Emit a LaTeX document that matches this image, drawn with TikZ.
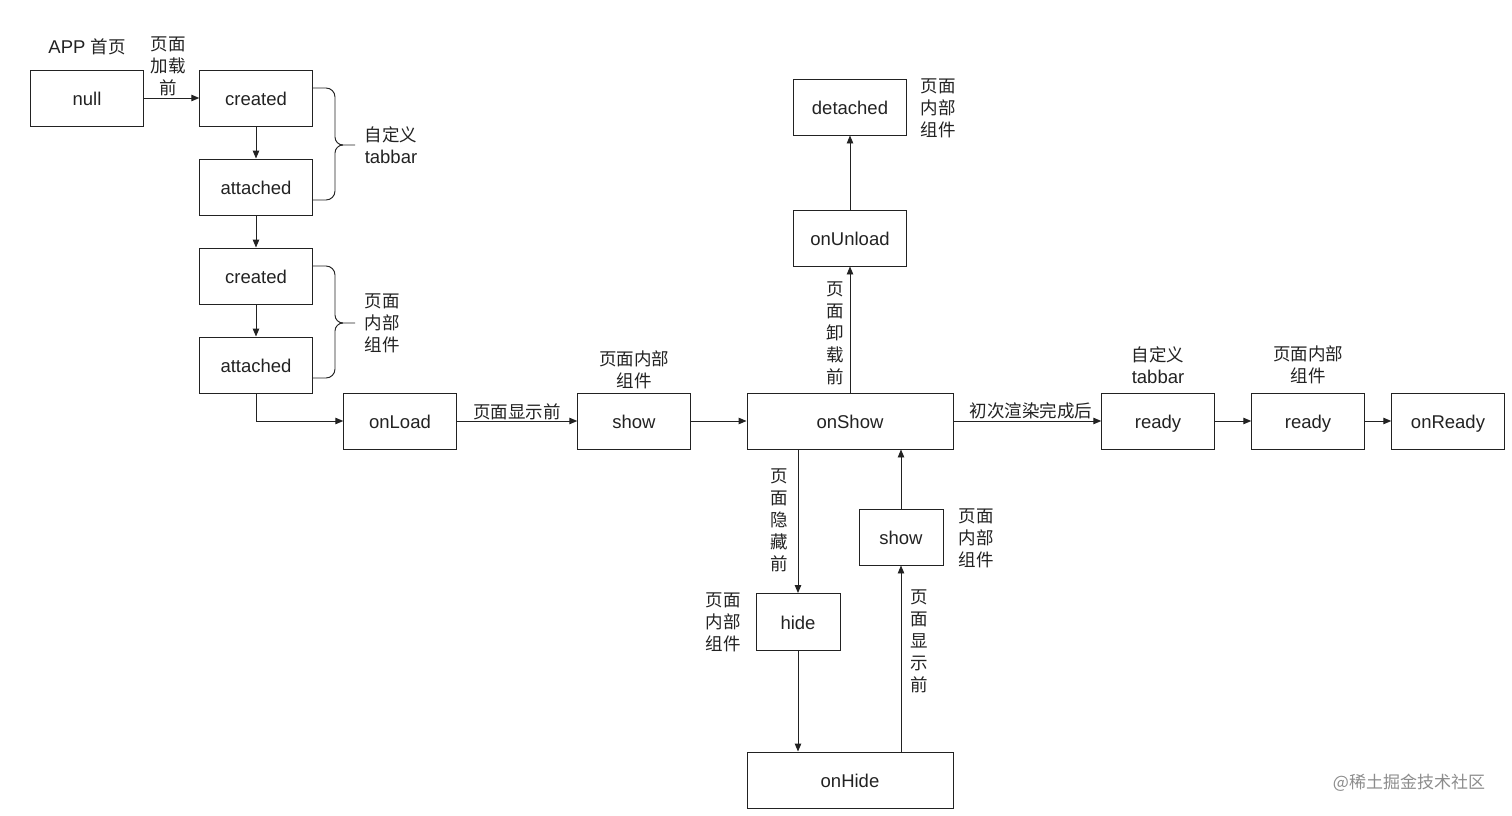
\documentclass[tikz,border=0pt]{standalone}
\usepackage{fontspec}
\setmainfont{Liberation Sans}
\newfontfamily\cjk{Noto Sans CJK SC}
\usetikzlibrary{arrows.meta}
\definecolor{ink}{HTML}{222222}
\begin{document}
\begin{tikzpicture}[x=1pt,y=-1pt,
  box/.style={draw=ink, line width=0.95pt, minimum width=112.5pt, minimum height=56pt, inner sep=0pt, text=ink, text height=15pt, text depth=0pt, font=\fontsize{18.5}{20}\selectfont},
  lbl/.style={align=center, inner sep=0pt, text=ink, font=\fontsize{17.5}{22}\selectfont\cjk},
  arr/.style={draw=ink, -{Triangle[length=8pt,width=6.5pt]}, line width=0.95pt},
  brace/.style={draw=ink, line width=0.95pt},
  wm/.style={inner sep=0pt, text=black!45, font=\fontsize{17}{20}\selectfont\cjk}]
\useasboundingbox (0,0) rectangle (1512,816);

% boxes
\node[box] (null) at (87,98) {null};
\node[box] (c1) at (256,98) {created};
\node[box] (a1) at (256,187) {attached};
\node[box] (c2) at (256,276) {created};
\node[box] (a2) at (256,365) {attached};
\node[box] (onLoad) at (400,421) {onLoad};
\node[box] (show) at (634,421) {show};
\node[box, minimum width=206pt] (onShow) at (850,421) {onShow};
\node[box] (r1) at (1158,421) {ready};
\node[box] (r2) at (1308,421) {ready};
\node[box] (onReady) at (1448,421) {onReady};
\node[box] (onUnload) at (850,238) {onUnload};
\node[box] (det) at (850,107) {detached};
\node[box, minimum width=84pt, minimum height=57pt] (hide) at (798,622) {hide};
\node[box, minimum width=84pt] (show2) at (901,537) {show};
\node[box, minimum width=206pt] (onHide) at (850,780) {onHide};

% labels
\node[lbl, font=\fontsize{18.5}{22}\selectfont] (app) at (87,47) {APP {\cjk\fontsize{17.5}{22}\selectfont 首页}};
\node[lbl] (l1) at (168,66) {页面\\加载\\前};
\node[lbl] (l2) at (391,145) {自定义\\{\rmfamily\fontsize{18.5}{22}\selectfont tabbar}};
\node[lbl] (l3) at (382,323) {页面\\内部\\组件};
\node[lbl] (l4) at (517,412) {页面显示前};
\node[lbl] (l5) at (634,370) {页面内部\\组件};
\node[lbl] (l6) at (1031,411) {初次渲染完成后};
\node[lbl] (l7) at (1158,365) {自定义\\{\rmfamily\fontsize{18.5}{22}\selectfont tabbar}};
\node[lbl] (l8) at (1308,365) {页面内部\\组件};
\node[lbl] (l9) at (938,108) {页面\\内部\\组件};
\node[lbl] (l10) at (835,333) {页\\面\\卸\\载\\前};
\node[lbl] (l11) at (779,520) {页\\面\\隐\\藏\\前};
\node[lbl] (l12) at (919,641) {页\\面\\显\\示\\前};
\node[lbl] (l13) at (976,538) {页面\\内部\\组件};
\node[lbl] (l14) at (723,622) {页面\\内部\\组件};
\node[wm] (wm) at (1409,783) {@稀土掘金技术社区};

% connectors
\draw[arr] (null) -- (c1);
\draw[arr] (c1) -- (a1);
\draw[arr] (a1) -- (c2);
\draw[arr] (c2) -- (a2);
\draw[arr] (a2.south) |- (onLoad.west);
\draw[arr] (onLoad) -- (show);
\draw[arr] (show) -- (onShow);
\draw[arr] (onShow) -- (r1);
\draw[arr] (r1) -- (r2);
\draw[arr] (r2) -- (onReady);
\draw[arr] (onShow.north) -- (onUnload.south);
\draw[arr] (onUnload) -- (det);
\draw[arr] (onShow.south -| hide.north) -- (hide.north);
\draw[arr] (hide) -- (onHide.north -| hide.south);
\draw[arr] (onHide.north -| show2.south) -- (show2.south);
\draw[arr] (show2.north) -- (onShow.south -| show2.north);

% braces
\draw[brace] (312,88) -- (326,88) arc[start angle=-90, end angle=0, radius=9] -- (335,137)
  arc[start angle=180, end angle=90, radius=8] -- (355,145);
\draw[brace] (343,145) arc[start angle=-90, end angle=-180, radius=8] -- (335,191)
  arc[start angle=0, end angle=90, radius=9] -- (312,200);
\draw[brace] (312,266) -- (326,266) arc[start angle=-90, end angle=0, radius=9] -- (335,315)
  arc[start angle=180, end angle=90, radius=8] -- (355,323);
\draw[brace] (343,323) arc[start angle=-90, end angle=-180, radius=8] -- (335,369)
  arc[start angle=0, end angle=90, radius=9] -- (312,378);
\end{tikzpicture}
\end{document}
